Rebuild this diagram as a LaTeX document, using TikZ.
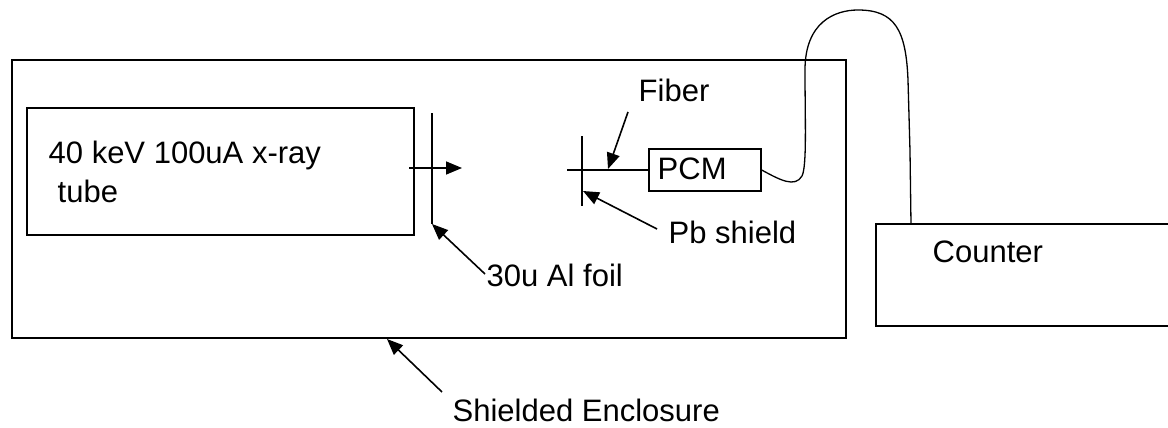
\documentclass[tikz,border=0pt]{standalone}
\usepackage{fontspec}
\setmainfont{Liberation Sans}
\usetikzlibrary{arrows.meta}
\begin{document}
\begin{tikzpicture}[x=1pt,y=-1pt,
  line width=1.4pt,
  box/.style={draw,line width=1.4pt,rectangle,inner sep=0pt},
  lbl/.style={anchor=base west,inner sep=0pt,font=\fontsize{31}{37}\selectfont},
  pointer/.style={-{Triangle[length=16pt,width=13pt]},line width=1.6pt}]
\useasboundingbox (0,0) rectangle (1168,428);
% boxes
\node[box,minimum width=834pt,minimum height=278pt] (encl) at (429,199) {};
\node[box,minimum width=387pt,minimum height=127pt] (tube) at (220.5,171.5) {};
\node[box,minimum width=112pt,minimum height=42pt] (pcm) at (705,170) {};
\node[lbl] (pcmtxt) at (657,179) {PCM};
% counter (open on the right, cut by the edge)
\coordinate (cTR) at (1170,224);
\coordinate (cTL) at (876,224);
\coordinate (cBL) at (876,326);
\coordinate (cBR) at (1170,326);
\draw (cTR) -- (cTL) -- (cBL) -- (cBR);
\coordinate (cIn) at (911,224);
% texts
\node[lbl] (tubetxt1) at (48,163) {40 keV 100uA x-ray};
\node[lbl] (tubetxt2) at (57,202) {tube};
\node[lbl] (fiber) at (638,102) {Fiber};
\node[lbl] (foiltxt) at (486,286) {30u Al foil};
\node[lbl] (pbtxt) at (668,243) {Pb shield};
\node[lbl] (counter) at (932,262) {Counter};
\node[lbl] (encltxt) at (452,421) {Shielded Enclosure};
% foil and shield
\coordinate (foilT) at (432,113);
\coordinate (foilB) at (432,224);
\draw (foilT) -- (foilB);
\coordinate (pbT) at (582,136);
\coordinate (pbB) at (582,206);
\draw (pbT) -- (pbB);
% beam arrow
\coordinate (beamS) at (409,168);
\coordinate (beamE) at (462,168);
\draw[pointer] (beamS) -- (beamE);
% fiber
\coordinate (fibS) at (567,170);
\draw (fibS) -- (pcm.west);
% pointer arrows
\coordinate (fibTail) at (628,112);
\coordinate (fibTip) at (608,169);
\draw[pointer] (fibTail) -- (fibTip);
\coordinate (pbTail) at (657,229);
\coordinate (pbTip) at (583,191);
\draw[pointer] (pbTail) -- (pbTip);
\coordinate (foilTail) at (485,274);
\coordinate (foilTip) at (432,224);
\draw[pointer] (foilTail) -- (foilTip);
\coordinate (enTail) at (442,392);
\coordinate (enTip) at (387,339);
\draw[pointer] (enTail) -- (enTip);
% cable
\draw[line width=1.3pt] (pcm.east) .. controls (780,180) and (795,188) .. (802,176)
  .. controls (807,166) and (805,120) .. (805,70)
  .. controls (805,22) and (835,10) .. (858,10)
  .. controls (895,10) and (906,30) .. (908,80)
  -- (910,151) -- (cIn);
\end{tikzpicture}
\end{document}
